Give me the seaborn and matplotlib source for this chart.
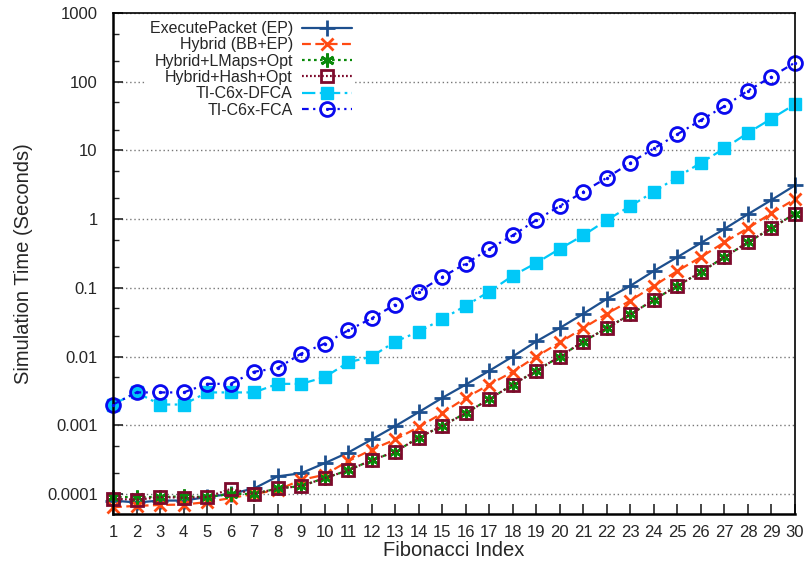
import numpy as np
import pandas as pd
import matplotlib
matplotlib.use("Agg")
import matplotlib.pyplot as plt
import seaborn as sns
from matplotlib.legend_handler import HandlerTuple

sns.set_style("ticks")
plt.rcParams['font.family'] = ['Liberation Sans', 'DejaVu Sans']

# ---- data ----
fib_index = list(range(1, 31))

execute_packet = [0.00008, 0.000075, 0.00008, 0.00008, 0.00009, 0.0001, 0.00012, 0.00018,
                  0.0002, 0.00028, 0.0004, 0.00062, 0.00097, 0.00155, 0.0025, 0.0039,
                  0.0062, 0.01, 0.0166, 0.026, 0.042, 0.069, 0.107, 0.176, 0.28, 0.45,
                  0.72, 1.18, 1.9, 3.1]
hybrid_bb_ep = [0.000064, 0.000067, 0.000069, 0.00007, 0.000076, 0.000087, 0.0001, 0.000114,
                0.00016, 0.00019, 0.0003, 0.00044, 0.00062, 0.00094, 0.0015, 0.0025,
                0.0039, 0.006, 0.01, 0.016, 0.026, 0.042, 0.065, 0.107, 0.176, 0.28,
                0.46, 0.74, 1.22, 1.95]
hybrid_lmaps = [0.00009, 0.00009, 0.00009, 0.000092, 0.00009, 0.0001, 0.0001, 0.00012,
                0.00013, 0.00017, 0.00022, 0.00031, 0.00041, 0.00066, 0.00098, 0.0015,
                0.0024, 0.0039, 0.0062, 0.01, 0.0165, 0.026, 0.041, 0.067, 0.107, 0.17,
                0.28, 0.46, 0.74, 1.2]
hybrid_hash = [0.000085, 0.000082, 0.00009, 0.000088, 0.00009, 0.000118, 0.0001, 0.00012,
               0.00013, 0.00017, 0.00022, 0.00031, 0.00041, 0.00066, 0.00098, 0.0015,
               0.0024, 0.0039, 0.0062, 0.01, 0.0165, 0.026, 0.041, 0.067, 0.107, 0.17,
               0.28, 0.46, 0.74, 1.2]
ti_dfca = [0.002, 0.003, 0.002, 0.002, 0.003, 0.003, 0.003, 0.004, 0.004, 0.005,
           0.0082, 0.01, 0.0165, 0.023, 0.035, 0.055, 0.088, 0.15, 0.23, 0.37,
           0.58, 0.97, 1.55, 2.5, 4.1, 6.6, 10.7, 18, 29, 47]
ti_fca = [0.002, 0.003, 0.003, 0.003, 0.004, 0.004, 0.006, 0.0068, 0.011, 0.0154,
          0.024, 0.036, 0.057, 0.088, 0.144, 0.225, 0.367, 0.58, 0.97, 1.55,
          2.5, 4.0, 6.6, 10.7, 17.2, 27.6, 44, 74, 118, 190]

series = [
    ("ExecutePacket (EP)", execute_packet, dict(color='#1d4f8e', marker='+', ms=11, mew=2,
                                                dashes=(None, None), mfc='none')),
    ("Hybrid (BB+EP)", hybrid_bb_ep, dict(color='#ff4a12', marker='x', ms=9, mew=2,
                                          dashes=(4, 2), mfc='none')),
    ("Hybrid+LMaps+Opt", hybrid_lmaps, dict(color='#0a8a0a', marker=(6, 2, 0), ms=10, mew=2,
                                            dashes=(1.2, 1.5), mfc='none')),
    ("Hybrid+Hash+Opt", hybrid_hash, dict(color='#7d0a2c', marker='s', ms=9, mew=2,
                                          dashes=(0.8, 1.0), mfc='none')),
    ("TI-C6x-DFCA", ti_dfca, dict(color='#00c8f8', marker='s', ms=9, mew=1,
                                  dashes=(6, 2, 1.2, 2), mfc='#00c8f8')),
    ("TI-C6x-FCA", ti_fca, dict(color='#0a0aee', marker='o', ms=10, mew=2,
                                dashes=(3, 2, 1, 2, 1, 2), mfc='none')),
]

fig = plt.figure(figsize=(8.05, 5.62), dpi=100)
ax = fig.add_axes([113 / 805, 1 - 514 / 562, 682 / 805, 501 / 562])

handles = []
for name, vals, st in series:
    df = pd.DataFrame({"idx": fib_index, "time": vals})
    sns.lineplot(data=df, x="idx", y="time", ax=ax, color=st['color'], lw=1.6,
                 marker=st['marker'], markersize=st['ms'], markeredgewidth=st['mew'],
                 markerfacecolor=st['mfc'], markeredgecolor=st['color'],
                 dashes=False, legend=False)
    line = ax.lines[-1]
    if st['dashes'][0] is not None:
        line.set_dashes(st['dashes'])
    line.set_clip_on(False)
    if name == "TI-C6x-FCA":
        sns.scatterplot(x=fib_index, y=vals, ax=ax, color=st['color'], marker='o', s=6,
                        linewidth=0, legend=False, zorder=5, clip_on=False)
        dot, = ax.plot([], [], 'o', color=st['color'], ms=2.2, mew=0)
        handles.append((line, dot))
    else:
        handles.append(line)

ax.set_yscale('log')
ax.set_ylim(5.1e-5, 1000)
ax.set_xlim(1, 30)
ax.set_xticks(fib_index)
ax.set_xticklabels([str(i) for i in fib_index], fontsize=12)
yt = [0.0001, 0.001, 0.01, 0.1, 1, 10, 100, 1000]
ax.set_yticks(yt)
ax.set_yticklabels(["0.0001", "0.001", "0.01", "0.1", "1", "10", "100", "1000"], fontsize=12)
minor = [m * 10.0 ** e for e in range(-5, 3) for m in (2, 5)]
ax.set_yticks([v for v in minor if 5.1e-5 < v < 1000], minor=True)
ax.yaxis.set_minor_formatter(matplotlib.ticker.NullFormatter())
ax.tick_params(axis='both', which='major', direction='in', length=7, width=1.2,
               top=False, right=False)
ax.tick_params(axis='y', which='major', pad=11)
ax.tick_params(axis='x', which='major', pad=8)
ax.tick_params(axis='y', which='minor', direction='in', length=4, width=1.0, right=False)

ax.yaxis.grid(True, which='major', color='#777777', linestyle=(0, (1, 2)), lw=1)
ax.xaxis.grid(False)
for sp in ax.spines.values():
    sp.set_color('black')
    sp.set_linewidth(1.2)
ax.spines['left'].set_linewidth(1.8)
ax.spines['bottom'].set_linewidth(1.8)

ax.set_xlabel("Fibonacci Index", fontsize=14.5, labelpad=1)
ax.set_ylabel("Simulation Time (Seconds)", fontsize=14.5, labelpad=10)

leg = ax.legend(handles, [s[0] for s in series], loc='upper right',
                bbox_to_anchor=(0.355, 0.99), markerfirst=False, fontsize=11.5,
                handlelength=3.1, handletextpad=0.6, labelspacing=0.08, borderpad=0.2,
                borderaxespad=0, frameon=True, fancybox=False,
                handler_map={tuple: HandlerTuple(ndivide=1)})
leg.get_frame().set_facecolor('white')
leg.get_frame().set_edgecolor('none')
leg.get_frame().set_alpha(1)

fig.savefig("out.png", dpi=100)
